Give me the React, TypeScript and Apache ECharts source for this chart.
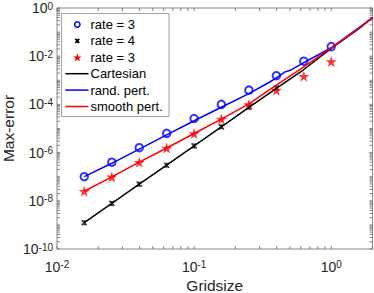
import React, { useEffect, useRef } from 'react';
import * as echarts from 'echarts';

// ---- data ----
const gridsize = [0.0158, 0.0251, 0.0398, 0.0631, 0.1, 0.158, 0.251, 0.398, 0.631, 1.0];
const rate3Circles = [1.0e-7, 4.0e-7, 1.6e-6, 6.3e-6, 2.6e-5, 1.0e-4, 3.9e-4, 1.55e-3, 6.2e-3, 2.5e-2];
const rate4Crosses = [1.23e-9, 7.8e-9, 4.9e-8, 3.0e-7, 1.9e-6, 1.17e-5, 7.6e-5, 4.8e-4];
const rate3Stars = [2.5e-8, 9.8e-8, 4.0e-7, 1.55e-6, 6.2e-6, 2.45e-5, 9.8e-5, 3.9e-4, 1.48e-3, 6.0e-3];

const lineGrid = [0.0158, 0.0251, 0.0398, 0.0631, 0.1, 0.158, 0.251, 0.398, 0.631, 1.0, 1.585, 2.0];
const cartesian = [1.23e-9, 7.8e-9, 4.9e-8, 3.0e-7, 1.9e-6, 1.17e-5, 7.6e-5, 4.6e-4, 2.8e-3, 2.1e-2, 0.135, 0.4];
const smoothPert = [2.5e-8, 9.8e-8, 4.0e-7, 1.55e-6, 6.2e-6, 2.45e-5, 1.05e-4, 6.3e-4, 3.6e-3, 2.2e-2, 0.141, 0.4];
const randGrid = [0.0158, 0.0251, 0.0398, 0.0631, 0.1, 0.158, 0.251, 0.359, 0.398, 0.461, 0.502, 0.631, 1.0, 1.585, 2.0];
const randPert = [1.0e-7, 3.6e-7, 1.4e-6, 5.4e-6, 2.1e-5, 7.6e-5, 2.8e-4, 8.7e-4, 1.26e-3, 2.24e-3, 2.6e-3, 5.4e-3, 2.24e-2, 0.151, 0.4];

const legendLabels = ['rate = 3', 'rate = 4', 'rate = 3', 'Cartesian', 'rand. pert.', 'smooth pert.'];
const legendKinds = ['circle', 'cross', 'star', 'line', 'line', 'line'];
const legendColors = ['#0000ff', '#000000', '#ff0000', '#000000', '#0000ff', '#ff0000'];

const X_MIN = 0.01;
const X_MAX = 2;
const Y_MIN = 1e-10;
const Y_MAX = 1;
const xMajor = [0.01, 0.1, 1];
const yMajor = [1e-10, 1e-8, 1e-6, 1e-4, 1e-2, 1];

const FONT = '"Liberation Sans", Arial, Helvetica, sans-serif';
const TXT = '#262626';
const STAR = 'path://M50,0L61.2,34.5L97.6,34.5L68.2,55.9L79.4,90.5L50,69.1L20.6,90.5L31.8,55.9L2.4,34.5L38.8,34.5Z';
const CROSS = 'path://M0,0M16,16M4,4L12,12M12,4L4,12M8,4L8,12';

const zip = (xs: number[], ys: number[]) => ys.map((y, i) => [xs[i], y]);

const powLabel = (v: number) => {
  const e = Math.log10(v);
  const r = Math.round(e);
  if (Math.abs(e - r) > 1e-6) return '';
  return `{b|10}{s|${r}}`;
};

const rich = {
  b: { fontSize: 14, fontFamily: FONT, color: TXT, lineHeight: 14, padding: [4, 0, 0, 0], verticalAlign: 'bottom' },
  s: { fontSize: 10, fontFamily: FONT, color: TXT, lineHeight: 10, verticalAlign: 'top' },
};

function buildTicks() {
  const out: number[][] = [];
  // kind: 0 bottom, 1 top, 2 left, 3 right
  for (const v of xMajor) {
    out.push([v, Y_MIN, 0, 3.2]);
    out.push([v, Y_MAX, 1, 3.2]);
  }
  for (const d of [0.01, 0.1, 1]) {
    for (let k = 2; k <= 9; k++) {
      const v = d * k;
      if (v <= X_MAX + 1e-9) {
        out.push([v, Y_MIN, 0, 3]);
        out.push([v, Y_MAX, 1, 3]);
      }
    }
  }
  for (const v of yMajor) {
    out.push([X_MIN, v, 2, 3.2]);
    out.push([X_MAX, v, 3, 3.2]);
  }
  for (let e = -10; e < 0; e++) {
    for (let k = 1; k <= 9; k++) {
      if (k === 1 && e % 2 === 0) continue;
      const v = k * Math.pow(10, e);
      out.push([X_MIN, v, 2, 3]);
      out.push([X_MAX, v, 3, 3]);
    }
  }
  return out;
}

function starPoints(cx: number, cy: number, R: number) {
  const pts: number[][] = [];
  const r = R * 0.382;
  for (let i = 0; i < 10; i++) {
    const a = -Math.PI / 2 + (i * Math.PI) / 5;
    const rr = i % 2 === 0 ? R : r;
    pts.push([cx + rr * Math.cos(a), cy + rr * Math.sin(a)]);
  }
  return pts;
}

function buildLegend() {
  const box = { x: 61.5, y: 13.5, w: 107.5, h: 103 };
  const rowTop = 24.5;
  const rowGap = 16.4;
  const markX = 77.3;
  const textX = 90.5;
  const children: any[] = [
    {
      type: 'rect',
      shape: { x: box.x, y: box.y, width: box.w, height: box.h },
      style: { fill: '#fff', stroke: '#a0a0a0', lineWidth: 1 },
    },
  ];
  legendLabels.forEach((label, i) => {
    const cy = rowTop + i * rowGap;
    const c = legendColors[i];
    const kind = legendKinds[i];
    if (kind === 'circle') {
      children.push({ type: 'circle', shape: { cx: markX, cy, r: 2.7 }, style: { fill: '#fff', stroke: c, lineWidth: 1.5 } });
    } else if (kind === 'cross') {
      children.push({ type: 'line', shape: { x1: markX - 2, y1: cy - 2, x2: markX + 2, y2: cy + 2 }, style: { stroke: c, lineWidth: 1.5 } });
      children.push({ type: 'line', shape: { x1: markX + 2, y1: cy - 2, x2: markX - 2, y2: cy + 2 }, style: { stroke: c, lineWidth: 1.5 } });
      children.push({ type: 'line', shape: { x1: markX, y1: cy - 2, x2: markX, y2: cy + 2 }, style: { stroke: c, lineWidth: 1.2 } });
    } else if (kind === 'star') {
      children.push({ type: 'polygon', shape: { points: starPoints(markX, cy + 0.5, 4.6) }, style: { fill: c } });
    } else {
      children.push({ type: 'line', shape: { x1: 65.3, y1: cy, x2: 88.5, y2: cy }, style: { stroke: c, lineWidth: 1.5 } });
    }
    children.push({
      type: 'text',
      x: textX,
      y: cy,
      style: { text: label, fontSize: 13, fontFamily: FONT, fill: '#000', verticalAlign: 'middle', align: 'left' },
    });
  });
  return [{ type: 'group', z: 100, children }];
}

export default function App() {
  const ref = useRef<HTMLDivElement>(null);
  useEffect(() => {
    const chart = echarts.init(ref.current!, null, { renderer: 'svg' });
    const option: any = {
      animation: false,
      backgroundColor: '#fff',
      grid: {
        left: 57,
        right: 1.5,
        top: 8,
        bottom: 44,
        containLabel: false,
        outerBoundsMode: 'none',
        show: true,
        borderColor: '#8a8a8a',
        borderWidth: 1,
        backgroundColor: 'transparent',
      },
      xAxis: {
        type: 'log',
        logBase: 10,
        min: X_MIN,
        max: X_MAX,
        interval: 1,
        axisLine: { show: false },
        axisTick: { show: false },
        splitLine: { show: false },
        axisLabel: { formatter: powLabel, rich, margin: 10.5, showMaxLabel: false },
        name: 'Gridsize',
        nameLocation: 'middle',
        nameGap: 28,
        nameMoveOverlap: false,
        nameTextStyle: { fontSize: 15.5, fontFamily: FONT, color: TXT },
      },
      yAxis: {
        type: 'log',
        logBase: 10,
        min: Y_MIN,
        max: Y_MAX,
        interval: 2,
        axisLine: { show: false },
        axisTick: { show: false },
        splitLine: { show: false },
        axisLabel: { formatter: powLabel, rich, margin: 4 },
        name: 'Max-error',
        nameLocation: 'middle',
        nameGap: 41,
        nameMoveOverlap: false,
        nameTextStyle: { fontSize: 15.5, fontFamily: FONT, color: TXT },
      },
      graphic: buildLegend(),
      series: [
        {
          type: 'custom',
          name: 'ticks',
          silent: true,
          clip: false,
          z: 1,
          encode: { x: 0, y: 1 },
          data: buildTicks(),
          renderItem: (params: any, api: any) => {
            const p = api.coord([api.value(0), api.value(1)]);
            const k = api.value(2);
            const L = api.value(3);
            let dx = 0;
            let dy = 0;
            if (k === 0) dy = -L;
            else if (k === 1) dy = L;
            else if (k === 2) dx = L;
            else dx = -L;
            return {
              type: 'line',
              shape: { x1: p[0], y1: p[1], x2: p[0] + dx, y2: p[1] + dy },
              style: { stroke: '#6a6a6a', lineWidth: 0.8 },
            };
          },
        },
        {
          type: 'scatter',
          name: 'rate = 3',
          data: zip(gridsize, rate3Circles),
          symbol: 'emptyCircle',
          symbolSize: 7.5,
          itemStyle: { color: '#0000ff', borderColor: '#0000ff', borderWidth: 1.5 },
          z: 3,
        },
        {
          type: 'scatter',
          name: 'rate = 4',
          data: zip(gridsize, rate4Crosses),
          symbol: CROSS,
          symbolSize: 10,
          itemStyle: { color: '#000', borderColor: '#000', borderWidth: 1.6 },
          z: 3,
        },
        {
          type: 'scatter',
          name: 'rate = 3 ',
          data: zip(gridsize, rate3Stars),
          symbol: STAR,
          symbolSize: 11,
          itemStyle: { color: '#ff0000' },
          z: 3,
        },
        {
          type: 'line',
          name: 'Cartesian',
          data: zip(lineGrid, cartesian),
          symbol: 'none',
          showSymbol: false,
          lineStyle: { color: '#000', width: 1.5 },
          itemStyle: { color: '#000' },
          z: 4,
        },
        {
          type: 'line',
          name: 'rand. pert.',
          data: zip(randGrid, randPert),
          symbol: 'none',
          showSymbol: false,
          lineStyle: { color: '#0000ff', width: 1.5 },
          itemStyle: { color: '#0000ff' },
          z: 4,
        },
        {
          type: 'line',
          name: 'smooth pert.',
          data: zip(lineGrid, smoothPert),
          symbol: 'none',
          showSymbol: false,
          lineStyle: { color: '#ff0000', width: 1.5 },
          itemStyle: { color: '#ff0000' },
          z: 4,
        },
      ],
    };
    chart.setOption(option);
    return () => chart.dispose();
  }, []);
  return (
    <div
      ref={ref}
      style={{ position: 'fixed', left: 0, top: 0, width: 374, height: 293, background: '#fff' }}
    />
  );
}
